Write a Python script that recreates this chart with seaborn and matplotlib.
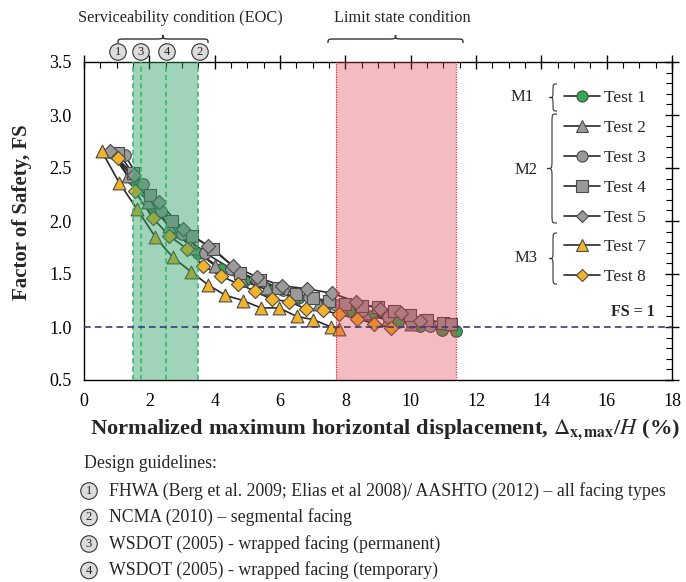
import numpy as np
import pandas as pd
import matplotlib
matplotlib.use("Agg")
import matplotlib.pyplot as plt
from matplotlib.path import Path
from matplotlib.patches import PathPatch
from matplotlib.lines import Line2D
import seaborn as sns

# ---------------- data ----------------
tests = ["Test 1", "Test 2", "Test 3", "Test 4", "Test 5", "Test 7", "Test 8"]

t1_x = [0.9, 1.5, 2.15, 2.8, 3.5, 4.2, 4.9, 5.7, 6.55, 7.4, 8.1, 8.8, 9.6, 10.3, 10.95, 11.4]
t1_y = [2.64, 2.40, 2.13, 1.90, 1.70, 1.55, 1.43, 1.34, 1.27, 1.21, 1.15, 1.10, 1.05, 1.01, 0.97, 0.96]

t2_x = [0.8, 1.35, 1.95, 2.6, 3.3, 4.0, 4.8, 5.6, 6.4, 7.2, 7.9, 8.6, 9.3, 10.0]
t2_y = [2.66, 2.42, 2.18, 1.95, 1.75, 1.58, 1.46, 1.37, 1.29, 1.22, 1.17, 1.13, 1.08, 1.03]

t3_x = [1.25, 1.8, 2.35, 3.0, 3.7, 4.5, 5.3, 6.1, 6.9, 7.7, 8.5, 9.3, 10.0, 10.6]
t3_y = [2.62, 2.35, 2.09, 1.88, 1.70, 1.55, 1.44, 1.35, 1.28, 1.21, 1.15, 1.09, 1.05, 1.01]

t4_x = [1.05, 1.5, 2.02, 2.7, 3.3, 3.96, 4.77, 5.4, 5.95, 6.5, 7.02, 7.5, 7.99, 8.5, 9.01, 9.5, 9.98, 10.5, 11.0, 11.23]
t4_y = [2.64, 2.45, 2.25, 2.00, 1.86, 1.74, 1.51, 1.44, 1.37, 1.31, 1.27, 1.25, 1.22, 1.20, 1.19, 1.15, 1.11, 1.07, 1.04, 1.03]

t5_x = [0.8, 1.54, 2.30, 3.04, 3.81, 4.55, 5.30, 6.05, 6.82, 7.58, 8.32, 9.06, 9.70, 10.3]
t5_y = [2.66, 2.43, 2.18, 1.92, 1.76, 1.58, 1.47, 1.39, 1.36, 1.32, 1.24, 1.17, 1.13, 1.06]

t7_x = [0.54, 1.08, 1.63, 2.18, 2.71, 3.28, 3.79, 4.32, 4.86, 5.42, 5.97, 6.51, 7.02, 7.56, 7.81]
t7_y = [2.66, 2.36, 2.11, 1.85, 1.66, 1.52, 1.40, 1.30, 1.25, 1.18, 1.18, 1.10, 1.07, 1.00, 0.98]

t8_x = [1.05, 1.56, 2.10, 2.61, 3.14, 3.65, 4.18, 4.71, 5.22, 5.75, 6.28, 6.80, 7.31, 7.81, 8.37, 8.88, 9.40]
t8_y = [2.59, 2.28, 2.03, 1.86, 1.74, 1.58, 1.48, 1.41, 1.34, 1.26, 1.24, 1.17, 1.16, 1.12, 1.08, 1.03, 0.99]

groups = {"M1": ["Test 1"], "M2": ["Test 2", "Test 3", "Test 4", "Test 5"], "M3": ["Test 7", "Test 8"]}

eoc_limits = [1.5, 3.5]            # serviceability band
eoc_lines = [1.5, 1.75, 2.5, 3.5]  # guideline limits 1, 3, 4, 2
eoc_labels = ["1", "3", "4", "2"]
limit_band = [7.7, 11.4]
fs_line = 1.0

x_ticks = [0, 2, 4, 6, 8, 10, 12, 14, 16, 18]
y_ticks = [0.5, 1.0, 1.5, 2.0, 2.5, 3.0, 3.5]

guidelines = [
    ("1", "FHWA (Berg et al. 2009; Elias et al 2008)/ AASHTO (2012) \u2013 all facing types"),
    ("2", "NCMA (2010) \u2013 segmental facing"),
    ("3", "WSDOT (2005) - wrapped facing (permanent)"),
    ("4", "WSDOT (2005) - wrapped facing (temporary)"),
]

series = {
    "Test 1": (t1_x, t1_y), "Test 2": (t2_x, t2_y), "Test 3": (t3_x, t3_y),
    "Test 4": (t4_x, t4_y), "Test 5": (t5_x, t5_y), "Test 7": (t7_x, t7_y),
    "Test 8": (t8_x, t8_y),
}
rows = []
for name in tests:
    xs, ys = series[name]
    for i, (a, b) in enumerate(zip(xs, ys)):
        rows.append({"test": name, "x": a, "FS": b, "order": i})
df = pd.DataFrame(rows)

# ---------------- style ----------------
sns.set_theme(style="white")
plt.rcParams["font.family"] = ["Liberation Serif", "DejaVu Serif"]
plt.rcParams["mathtext.fontset"] = "stix"
plt.rcParams["axes.edgecolor"] = "black"
plt.rcParams["xtick.color"] = "black"
plt.rcParams["ytick.color"] = "black"

GREEN = "#33a852"
GRAY = "#9a9a9a"
ORANGE = "#f0b329"
palette = {"Test 1": GREEN, "Test 2": GRAY, "Test 3": GRAY, "Test 4": GRAY,
           "Test 5": GRAY, "Test 7": ORANGE, "Test 8": ORANGE}
markers = {"Test 1": "o", "Test 2": "^", "Test 3": "o", "Test 4": "s",
           "Test 5": "D", "Test 7": "^", "Test 8": "D"}
sizes_pt = {"o": 70, "^": 85, "s": 70, "D": 52}

W, H = 686, 582
fig = plt.figure(figsize=(W / 100, H / 100), dpi=100)
L, R, T, B = 84, 672, 62, 380
ax = fig.add_axes([L / W, 1 - B / H, (R - L) / W, (B - T) / H])


def fx(x):
    return x / W


def fy(y):
    return 1 - y / H


# lines
sns.lineplot(data=df, x="x", y="FS", units="test", estimator=None, sort=False,
             color="#2a2a2a", lw=1.2, ax=ax, legend=False, zorder=2)
# markers
for name in tests:
    sub = df[df["test"] == name]
    m = markers[name]
    sns.scatterplot(data=sub, x="x", y="FS", marker=m, s=sizes_pt[m],
                    color=palette[name], edgecolor="#4a4a4a", linewidth=0.8,
                    ax=ax, legend=False, zorder=3)

# bands (drawn over the markers, translucent)
ax.axvspan(eoc_limits[0], eoc_limits[1], color=(46 / 255, 160 / 255, 100 / 255),
           alpha=0.45, lw=0, zorder=4)
ax.axvspan(limit_band[0], limit_band[1], color=(225 / 255, 60 / 255, 75 / 255),
           alpha=0.35, lw=0, zorder=4)
for xv in eoc_lines:
    ax.axvline(xv, color="#3cb56c", ls=(0, (3, 2)), lw=1.2, zorder=5)
for xv in limit_band:
    ax.axvline(xv, color="#e03040", ls=(0, (1, 1)), lw=0.9, zorder=5)

ax.axhline(fs_line, color="#3b3b78", ls=(0, (4, 2.5)), lw=1.2, zorder=5)
ax.text((655 - L) / (R - L), (B - 312) / (B - T), "FS = 1", transform=ax.transAxes,
        ha="right", va="center", fontsize=11.5, fontweight="bold")

# axes
ax.set_xlim(0, 18)
ax.set_ylim(0.5, 3.5)
ax.set_xticks(x_ticks)
ax.set_yticks(y_ticks)
ax.set_xticklabels([str(v) for v in x_ticks])
ax.set_yticklabels([f"{v:.1f}" for v in y_ticks])
ax.set_xticks(np.arange(0, 18.01, 0.5), minor=True)
ax.set_yticks(np.arange(0.5, 3.501, 0.1), minor=True)
ax.tick_params(which="major", direction="inout", length=10, width=1,
               top=True, right=True, labelsize=13, pad=4)
ax.tick_params(which="minor", direction="in", length=4, width=0.8,
               top=True, right=True)
for sp in ax.spines.values():
    sp.set_visible(True)
    sp.set_color("black")
    sp.set_linewidth(1.0)

ax.set_xlabel(r"Normalized maximum horizontal displacement, $\Delta_{\mathbf{x,max}}$/$\mathbf{\mathit{H}}$ (%)",
              fontsize=16.2, fontweight="bold")
ax.xaxis.set_label_coords((385 - L) / (R - L), (B - 430) / (B - T))
ax.xaxis.label.set_va("center")
ax.set_ylabel("Factor of Safety, FS", fontsize=15, fontweight="bold")
ax.yaxis.set_label_coords((22 - L) / (R - L), (B - 212) / (B - T))
ax.yaxis.label.set_va("center")

# legend
handles = [Line2D([], [], color="#2a2a2a", lw=1.2, marker=markers[n],
                  markerfacecolor=palette[n], markeredgecolor="#4a4a4a",
                  markeredgewidth=0.8, markersize=8 if markers[n] != "D" else 6.5,
                  label=n) for n in tests]
leg = ax.legend(handles=handles, loc="upper left", frameon=False,
                bbox_to_anchor=(fx(564), fy(90)), bbox_transform=fig.transFigure,
                fontsize=12.5, labelspacing=0.79, handlelength=2.1,
                handletextpad=0.2, borderpad=0, borderaxespad=0)
leg.set_zorder(10)


# braces
def brace(a0, a1, b_end, b_tip, vertical=False, lw=1.0):
    am = (a0 + a1) / 2
    bm = (b_end + b_tip) / 2
    r = min(9, (a1 - a0) / 4)
    pts = [(a0, b_end), (a0, bm), (a0, bm), (a0 + r, bm),
           (am - r, bm), (am, bm), (am, bm), (am, b_tip),
           (am, bm), (am, bm), (am + r, bm),
           (a1 - r, bm), (a1, bm), (a1, bm), (a1, b_end)]
    codes = [Path.MOVETO, Path.CURVE4, Path.CURVE4, Path.CURVE4,
             Path.LINETO, Path.CURVE4, Path.CURVE4, Path.CURVE4,
             Path.CURVE4, Path.CURVE4, Path.CURVE4,
             Path.LINETO, Path.CURVE4, Path.CURVE4, Path.CURVE4]
    if vertical:
        verts = [(fx(b), fy(a)) for a, b in pts]
    else:
        verts = [(fx(a), fy(b)) for a, b in pts]
    patch = PathPatch(Path(verts, codes), fc="none", ec="#333333", lw=lw,
                      transform=fig.transFigure)
    fig.add_artist(patch)


brace(118, 208, 43, 35)
brace(328, 463, 43, 35)
fig.text(fx(180), fy(18), "Serviceability condition (EOC)", ha="center", va="center", fontsize=11.8)
fig.text(fx(402), fy(18), "Limit state condition", ha="center", va="center", fontsize=11.8)

brace(84, 111, 557, 549, vertical=True, lw=0.8)
brace(114, 223, 557, 547, vertical=True, lw=0.8)
brace(233, 284, 557, 549, vertical=True, lw=0.8)
fig.text(fx(534), fy(97), "M1", ha="right", va="center", fontsize=12)
fig.text(fx(538), fy(170), "M2", ha="right", va="center", fontsize=12)
fig.text(fx(538), fy(258), "M3", ha="right", va="center", fontsize=12)

circ = dict(boxstyle="circle,pad=0.18", fc="#dcdcdc", ec="#333333", lw=0.8)
for xp, lab in zip([118, 141, 167, 200], eoc_labels):
    fig.text(fx(xp), fy(52), lab, ha="center", va="center", fontsize=9, bbox=circ)

# design guidelines
fig.text(fx(84), fy(463), "Design guidelines:", ha="left", va="center", fontsize=12.8)
for i, (num, txt) in enumerate(guidelines):
    yy = 491 + i * 26.5
    fig.text(fx(89), fy(yy), num, ha="center", va="center", fontsize=9, bbox=circ)
    fig.text(fx(109), fy(yy), txt, ha="left", va="center", fontsize=12.8)

fig.savefig("out.png", dpi=100)
